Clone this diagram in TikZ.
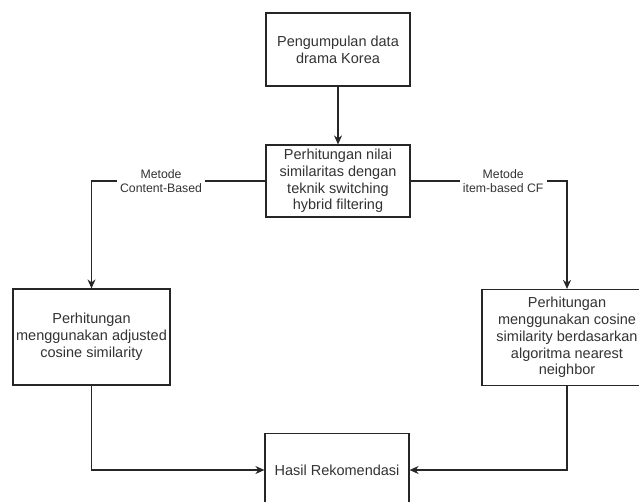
\documentclass[tikz,border=0pt]{standalone}
\usepackage{fontspec}
\setmainfont{Liberation Sans}
\usetikzlibrary{arrows.meta}
\definecolor{txt}{HTML}{333333}
\begin{document}
\begin{tikzpicture}[x=1pt,y=-1pt,
  box/.style={draw=black!85, line width=1.2pt, fill=white, align=center, text=txt,
    font=\fontsize{14.5}{16.8}\selectfont, inner sep=0pt},
  conn/.style={draw=black!85, line width=1.1pt, -{Stealth[length=9pt,width=8pt]}},
  lbl/.style={fill=white, text=txt, align=center, font=\fontsize{12.3}{14.5}\selectfont, inner sep=3pt}]
\useasboundingbox (0,0) rectangle (639,501);
\node[box, minimum width=144pt, minimum height=73pt] (n1) at (338,49.5) {Pengumpulan data\\drama Korea};
\node[box, minimum width=144pt, minimum height=72pt] (n2) at (338,181) {Perhitungan nilai\\similaritas dengan\\teknik switching\\hybrid filtering};
\node[box, minimum width=157pt, minimum height=96pt] (n3) at (91.5,337) {Perhitungan\\menggunakan adjusted\\cosine similarity};
\node[box, minimum width=170pt, minimum height=96pt] (n4) at (567,337.5) {Perhitungan\\menggunakan cosine\\similarity berdasarkan\\algoritma nearest\\neighbor};
\node[box, minimum width=144pt, minimum height=73pt] (n5) at (337,470) {Hasil Rekomendasi};
\draw[conn] (n1) -- (n2);
\draw[conn] (n2.west) -| node[lbl, pos=0.3] (l1) {Metode\\Content-Based} (n3.north);
\draw[conn] (n2.east) -| node[lbl, pos=0.296] (l2) {Metode\\item-based CF} (n4.north);
\draw[conn] (n3.south) |- (n5.west);
\draw[conn] (n4.south) |- (n5.east);
\end{tikzpicture}
\end{document}
